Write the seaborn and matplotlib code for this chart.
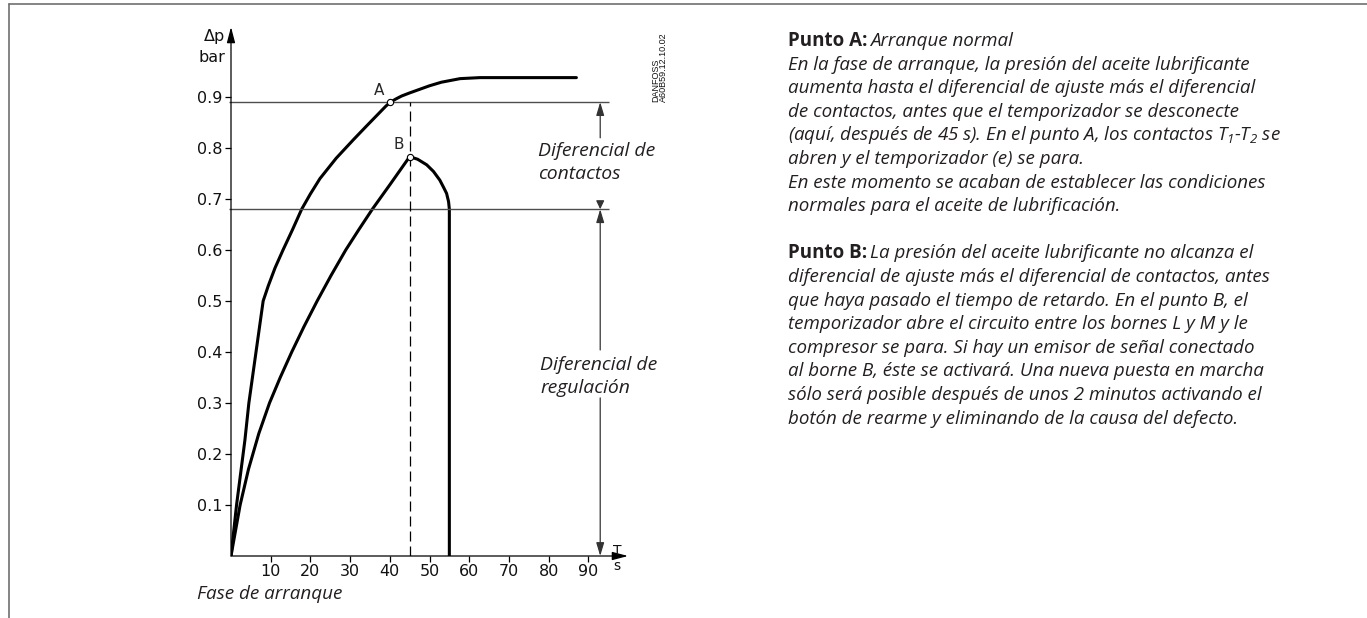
import matplotlib
matplotlib.use("Agg")
import matplotlib.pyplot as plt
from matplotlib import font_manager
from matplotlib.lines import Line2D
import pandas as pd
import seaborn as sns

# --- values (t in s, dp in bar) ---
t_curve_a = [0, 1.4, 3.5, 4.5, 6.3, 8.1, 9.4, 11.1, 13.1, 15.5, 17.8, 20.0, 22.4,
             26.5, 30.8, 34, 37, 39, 40, 41.5, 43, 45, 47.5, 50, 53, 57.7, 62.7, 70, 87]
p_curve_a = [0, 0.10, 0.227, 0.30, 0.40, 0.50, 0.53, 0.565, 0.60, 0.64, 0.68, 0.71, 0.74,
             0.78, 0.816, 0.842, 0.866, 0.882, 0.889, 0.896, 0.902, 0.908, 0.915, 0.922,
             0.929, 0.936, 0.938, 0.938, 0.938]

t_curve_b = [0, 2.3, 4.4, 7.0, 9.7, 12.4, 15.3, 18.4, 21.7, 25.2, 28.9, 32.2, 35.6, 40.2, 45,
             47, 49.3, 51, 52.6, 53.6, 54.3, 54.8, 55, 55]
p_curve_b = [0, 0.10, 0.17, 0.24, 0.30, 0.35, 0.40, 0.45, 0.50, 0.55, 0.60, 0.64, 0.68, 0.73, 0.783,
             0.778, 0.767, 0.754, 0.737, 0.722, 0.711, 0.695, 0.68, 0]

point_a = (40, 0.89)
point_b = (45, 0.783)
level_contacts = 0.89
level_setting = 0.68
t_delay = 45
t_dimension = 93

x_ticks = [10, 20, 30, 40, 50, 60, 70, 80, 90]
y_ticks = [0.1, 0.2, 0.3, 0.4, 0.5, 0.6, 0.7, 0.8, 0.9]

text_lines = [
    ("Punto A:", " Arranque normal"),
    (None, "En la fase de arranque, la presión del aceite lubrificante"),
    (None, "aumenta hasta el diferencial de ajuste más el diferencial"),
    (None, "de contactos, antes que el temporizador se desconecte"),
    (None, "(aquí, después de 45 s). En el punto A, los contactos $T_1$-$T_2$ se"),
    (None, "abren y el temporizador (e) se para."),
    (None, "En este momento se acaban de establecer las condiciones"),
    (None, "normales para el aceite de lubrificación."),
    (None, ""),
    ("Punto B:", " La presión del aceite lubrificante no alcanza el"),
    (None, "diferencial de ajuste más el diferencial de contactos, antes"),
    (None, "que haya pasado el tiempo de retardo. En el punto B, el"),
    (None, "temporizador abre el circuito entre los bornes L y M y le"),
    (None, "compresor se para. Si hay un emisor de señal conectado"),
    (None, "al borne B, éste se activará. Una nueva puesta en marcha"),
    (None, "sólo será posible después de unos 2 minutos activando el"),
    (None, "botón de rearme y eliminando de la causa del defecto."),
]

sns.set_style("white")
plt.rcParams["font.family"] = ["DejaVu Sans"]


def has_face(fam, style, bold):
    for f in font_manager.fontManager.ttflist:
        if f.name != fam:
            continue
        w = f.weight if isinstance(f.weight, (int, float)) else font_manager.weight_dict.get(f.weight, 400)
        if f.style == style and ((w >= 600) == bold):
            return True
    return False


text_family = next((fam for fam in ["Open Sans", "Noto Sans", "Lato"]
                    if has_face(fam, "italic", False) and has_face(fam, "normal", True)), "DejaVu Sans")
plt.rcParams["mathtext.fontset"] = "custom"
plt.rcParams["mathtext.it"] = f"{text_family}:italic"
plt.rcParams["mathtext.rm"] = f"{text_family}:italic"

W, H = 1367, 618
fig = plt.figure(figsize=(W / 100, H / 100), dpi=100)
renderer = fig.canvas.get_renderer()
ink = "#231f20"


def fx(px):
    return px / W


def fy(py):
    return 1 - py / H


def fit_size(txt, width_px, **kw):
    t = fig.text(0, 0, txt, fontsize=10, **kw)
    w = t.get_window_extent(renderer).width
    t.remove()
    return 10 * width_px / w


# axes: origin at (231, 556) px, 10 s = 39.7 px, 0.1 bar = 51 px
ax = fig.add_axes([fx(231), 62 / H, 397 / W, 529 / H])
ax.set_xlim(0, 100)
ax.set_ylim(0, 529 / 510)
for s in ax.spines.values():
    s.set_visible(False)

df_a = pd.DataFrame({"t": t_curve_a, "p": p_curve_a})
df_b = pd.DataFrame({"t": t_curve_b, "p": p_curve_b})
sns.lineplot(data=df_a, x="t", y="p", sort=False, estimator=None, color="black",
             lw=2.2, ax=ax, solid_capstyle="round", solid_joinstyle="round")
sns.lineplot(data=df_b, x="t", y="p", sort=False, estimator=None, color="black",
             lw=2.2, ax=ax, solid_capstyle="butt", solid_joinstyle="round")
ax.set_xlabel("")
ax.set_ylabel("")

ax.set_xticks(x_ticks)
ax.set_xticklabels([str(v) for v in x_ticks])
ax.set_yticks(y_ticks)
ax.set_yticklabels([f"{v:.1f}" for v in y_ticks])
ax.tick_params(left=True, bottom=True, direction="out", length=4, width=0.9, pad=2,
               labelsize=11.5, color="black", labelcolor="#111111")

# axis arrows
axis_arrow = dict(arrowstyle="-|>,head_length=0.95,head_width=0.25", color="black",
                  lw=0.9, shrinkA=0, shrinkB=0, mutation_scale=10)
ax.annotate("", xy=(100, 0), xytext=(0, 0), arrowprops=axis_arrow, annotation_clip=False)
ax.annotate("", xy=(0, 529 / 510), xytext=(0, 0), arrowprops=axis_arrow, annotation_clip=False)

# reference levels and delay line
ax.hlines([level_contacts, level_setting], -0.6, 95.3, colors="#4d4d4d", lw=1.0, clip_on=False)
ax.vlines(t_delay, 0, level_contacts, colors="black", lw=0.9, linestyles=(0, (8, 4)))

ax.plot(*zip(point_a, point_b), "o", ms=4.5, mfc="white", mec="black", mew=0.8, zorder=5)
ax.annotate("A", xy=point_a, xytext=(-8, 8), textcoords="offset points",
            ha="center", va="center", fontsize=11)
ax.annotate("B", xy=point_b, xytext=(-8, 8.5), textcoords="offset points",
            ha="center", va="center", fontsize=11)


def dim(y_from, y_to, hl):
    ax.annotate("", xy=(t_dimension, y_to), xytext=(t_dimension, y_from),
                arrowprops=dict(arrowstyle=f"-|>,head_length={hl},head_width=0.24",
                                color="#333333", lw=0.9, shrinkA=0, shrinkB=0, mutation_scale=10))


dim(0.82, level_contacts, 0.8)
dim(0.695, level_setting, 0.5)
dim(0.404, level_setting, 0.8)
dim(0.31, 0.0, 0.8)

# axis unit labels
fig.text(fx(225), fy(37), "Δp", ha="right", va="center", fontsize=11.5, color="#111111")
fig.text(fx(225), fy(58), "bar", ha="right", va="center", fontsize=11.5, color="#111111")
fig.text(fx(617), fy(555), "T", ha="center", va="baseline", fontsize=10, color="#111111")
fig.text(fx(617), fy(570), "s", ha="center", va="baseline", fontsize=10, color="#111111")

# italic chart annotations
lab_kw = dict(family=text_family, style="italic")
lab_size = fit_size("Diferencial de", 117, **lab_kw)
for px, py, txt in [(538, 156, "Diferencial de"), (538, 179, "contactos"),
                    (540, 370, "Diferencial de"), (540, 393, "regulación")]:
    fig.text(fx(px), fy(py), txt, ha="left", va="baseline", fontsize=lab_size, color=ink, **lab_kw)
fase_size = fit_size("Fase de arranque", 146, **lab_kw)
fig.text(fx(197), fy(599), "Fase de arranque", ha="left", va="baseline",
         fontsize=fase_size, color=ink, **lab_kw)

# drawing reference
fig.text(fx(656), fy(102), "DANFOSS", rotation=90, ha="center", va="bottom",
         fontsize=6.5, family="Liberation Sans", color="#111111")
fig.text(fx(663), fy(102), "A60B59.12.10.02", rotation=90, ha="center", va="bottom",
         fontsize=6.5, family="Liberation Sans", color="#111111")

# right-hand description
body_size = fit_size(text_lines[1][1], 462, **lab_kw)
x0, base0, step = 788, 46, 23.6
for k, (bold, rest) in enumerate(text_lines):
    y = fy(base0 + k * step)
    x = fx(x0)
    if bold:
        tb = fig.text(x, y, bold, ha="left", va="baseline", fontsize=body_size,
                      family=text_family, weight="bold", color=ink)
        x = fx(x0 + tb.get_window_extent(renderer).width + 3)
        rest = rest.strip()
    if rest:
        fig.text(x, y, rest, ha="left", va="baseline", fontsize=body_size, color=ink, **lab_kw)

# frame lines
frame = "#707070"
fig.add_artist(Line2D([fx(9), fx(9)], [0, fy(4)], transform=fig.transFigure, color=frame, lw=1.2))
fig.add_artist(Line2D([fx(9), 1], [fy(4), fy(4)], transform=fig.transFigure, color=frame, lw=1.2))

fig.savefig("out.png", dpi=100)
